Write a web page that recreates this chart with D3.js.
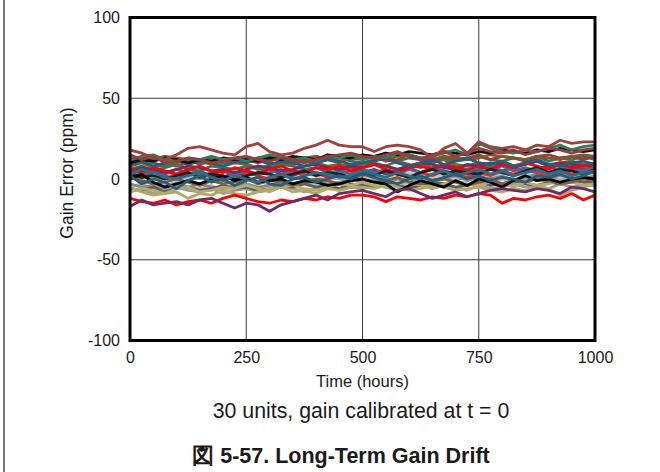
<!DOCTYPE html>
<html><head><meta charset="utf-8">
<script src="https://cdn.jsdelivr.net/npm/d3@7"></script>
<style>
html,body{margin:0;padding:0;background:#fff;}
svg{display:block;}
text{font-family:"Liberation Sans",Arial,sans-serif;fill:#1a1a1a;}
</style></head>
<body>
<svg id="chart" width="660" height="472"></svg>
<script>
// ---- data ----
const hours = [0,25,50,75,100,125,150,175,200,225,250,275,300,325,350,375,400,425,450,475,500,525,550,575,600,625,650,675,700,725,750,775,800,825,850,875,900,925,950,975,1000];
const xTicks = [0,250,500,750,1000];
const yTicks = [-100,-50,0,50,100];

const u01 = [18,16,13,12,15,19,20,18,16,15, 20,22,17,15,16,19,21,24,21,20, 20,17,20,21,20,18,13,19,22,16, 23,20,19,20,18,21,20,24,22,23, 23];
const u02 = [15,12,14,10,11,13,12,10,11,13, 14,12,11,13,12,10,12,14,15,16, 14,13,15,17,14,12,15,17,14,16, 19,17,16,18,15,17,19,18,16,18, 19];
const u03 = [13,11,12,14,11,9,12,13,11,10, 12,10,12,13,11,12,14,12,10,13, 12,14,11,12,15,13,11,14,12,13, 15,12,14,13,11,14,15,13,14,12, 14];
const u04 = [10,12,11,13,12,10,12,11,13,12, 12,11,13,12,14,13,12,15,14,13, 15,14,16,15,17,16,15,17,16,15, 17,16,18,17,16,18,17,19,18,17, 18];
const u05 = [12,14,15,12,11,13,12,14,12,13, 11,13,15,14,12,13,11,14,13,15, 12,14,13,16,15,13,14,16,18,15, 22,19,17,16,18,17,19,21,18,20, 21];
const u06 = [9,11,10,8,10,12,9,11,10,12, 11,13,10,9,12,11,10,12,13,11, 10,12,14,11,13,12,10,13,11,12, 14,12,11,13,12,14,11,13,12,14, 12];
const u07 = [11,13,12,14,13,12,11,13,12,11, 12,13,14,12,11,13,14,12,11,13, 14,13,12,14,15,13,12,14,13,12, 13,15,14,13,12,14,13,12,14,15, 14];
const u08 = [8,10,7,9,8,10,11,9,8,10, 9,7,8,10,9,11,10,8,9,7, 9,10,8,11,9,7,10,12,9,8, 10,9,11,8,10,12,9,10,11,9, 10];
const u09 = [9,11,8,10,12,9,11,10,8,11, 10,12,9,11,10,8,10,12,11,9, 10,11,13,10,8,10,12,9,11,13, 10,9,11,8,10,12,9,8,10,11, 9];
const u10 = [2,-3,0,-2,-6,-1,2,-2,0,-4, -1,1,-3,-4,0,1,-2,0,2,0, 3,1,-1,-3,0,2,-1,1,3,0, 2,-1,1,0,-2,2,1,3,0,2, 5];
const u11 = [5,7,6,4,6,8,7,5,6,4, 6,8,7,5,6,8,9,7,6,8, 7,9,8,6,8,10,9,7,6,9, 8,10,9,7,9,11,8,10,9,8, 9];
const u12 = [3,1,4,2,0,3,5,2,1,4, 2,4,6,3,2,5,4,2,5,7, 4,6,3,5,7,4,6,8,5,3, 6,8,5,7,4,6,8,5,7,6, 7];
const u13 = [6,4,7,5,3,6,8,5,4,7, 5,3,6,8,5,4,7,6,8,5, 7,9,6,4,7,8,6,9,7,5, 8,6,9,7,10,8,6,9,7,8, 8];
const u14 = [3,5,2,0,3,4,1,3,5,2, 4,2,0,3,5,2,4,1,3,5, 2,4,6,3,1,4,2,5,3,1, 4,2,5,3,6,4,2,5,3,4, 4];
const u15 = [-12,-14,-15,-13,-16,-14,-13,-15,-12,-10, -12,-14,-15,-13,-14,-12,-13,-11,-12,-10, -10,-11,-14,-11,-12,-13,-11,-12,-10,-11, -9,-10,-15,-12,-13,-11,-10,-12,-9,-13, -10];
const u16 = [-17,-13,-16,-15,-14,-16,-13,-12,-15,-18, -15,-16,-20,-16,-14,-12,-10,-13,-9,-8, -7,-9,-11,-7,-6,-9,-12,-10,-8,-11, -9,-7,-6,-7,-8,-6,-7,-9,-5,-6, -8];
const u17 = [-5,-8,-10,-9,-8,-12,-9,-10,-7,-9, -10,-8,-6,-5,-8,-7,-9,-6,-7,-5, -5,-6,-4,-5,-7,-6,-4,-5,-7,-6, -5,-7,-8,-6,-7,-5,-6,-10,-7,-5, -3];
const u18 = [-8,-6,-7,-9,-6,-5,-8,-7,-5,-6, -4,-6,-8,-5,-4,-6,-7,-5,-3,-4, -2,-4,-5,-3,-2,-4,-6,-3,-1,-3, -4,-2,-3,-5,-2,-4,-3,-1,-2,-4, -3];
const u19 = [0,3,-2,-5,-3,-1,-3,0,2,-1, 1,-2,-1,0,-3,-1,-2,-4,-3,-1, 0,-2,-3,-8,-4,-1,-3,-5,-1,-4, 0,-2,-5,-1,2,-1,0,-2,0,1, 0];
const u20 = [3,1,2,0,2,4,1,3,2,0, 2,4,3,1,3,5,2,4,3,1, 4,2,5,3,1,4,6,3,5,4, 3,6,4,2,5,7,4,6,5,3, 6];
const u21 = [3,6,4,1,0,2,4,1,-1,2, 0,-2,1,3,0,2,4,3,1,2, 5,3,1,4,2,0,3,5,2,4, 6,3,5,2,4,6,3,5,2,4, 5];
const u22 = [-3,-5,-4,-6,-4,-5,-3,-5,-6,-4, -3,-5,-4,-2,-4,-3,-1,-3,-2,0, -2,-1,-3,0,-2,1,-1,0,2,-1, 1,0,2,-1,1,3,0,2,1,0, 2];
const u23 = [-5,-3,-6,-4,-2,-5,-6,-4,-7,-5, -4,-6,-3,-5,-4,-2,-4,-6,-3,-5, -3,-1,-4,-2,-5,-3,-1,-3,-2,-4, -1,-3,0,-2,-1,1,-2,0,-1,1, 0];
const u24 = [1,-1,0,2,-1,1,3,0,-1,2, 1,0,2,-1,1,3,2,0,1,3, 0,2,1,3,4,2,1,3,0,2, 3,1,4,2,3,5,2,4,3,2, 3];
const u25 = [-6,-7,-5,-8,-6,-5,-7,-6,-4,-6, -5,-7,-6,-4,-5,-3,-5,-4,-6,-3, -4,-5,-3,-4,-6,-4,-2,-3,-5,-4, -2,-4,-3,-1,-3,-4,-2,-3,-1,-2, -2];
const u26 = [1,-1,-3,-2,0,-2,-4,-1,-3,-2, 0,-3,-1,-2,-4,-2,0,-1,-3,-1, 0,-2,-1,1,-2,-3,-1,0,-2,-4, -2,0,-3,-1,-2,0,-1,-3,-2,0, -1];
const u27 = [-8,-6,-9,-7,-5,-7,-8,-6,-9,-7, -6,-8,-7,-5,-6,-8,-6,-4,-7,-5, -6,-4,-5,-7,-5,-3,-6,-4,-5,-7, -4,-6,-5,-3,-5,-4,-6,-3,-5,-4, -4];
const u28 = [6,8,5,7,9,6,5,8,7,6, 8,6,7,9,8,6,7,5,8,9, 7,9,8,6,8,10,7,9,8,6, 9,7,10,8,9,11,8,10,9,8, 9];
const u29 = [4,2,5,3,6,4,2,4,5,3, 5,3,4,6,3,5,7,4,5,3, 6,4,5,3,6,4,7,5,3,6, 4,6,8,5,7,5,4,7,6,5, 7];
const u30 = [5,3,6,4,2,5,3,4,6,3, 4,2,5,3,5,6,4,2,4,5, 3,5,4,6,3,2,5,4,6,3, 5,7,4,6,5,3,6,4,5,7, 5];

// draw order (back to front) and line colours
const units = [u30,u24,u23,u22,u27,u25,u18,u17,u26,u14,u12,u29,u28,u08,u06,u03,u07,u11,u13,u20,u19,u21,u10,u09,u04,u05,u02,u15,u16,u01];
const unitColors = ["#d0d0d0","#c4c4c4","#b8b8b8","#8a8a8a","#9a9a9a","#5e5e5e","#b3ad6e","#b0aa64","#8a5a30","#ff2020","#7a3a78","#3e6f96","#2f7c5a","#8b5a2b","#2e7a56","#9b3b3b","#86552a","#6c2d6e","#ff0000","#222222","#000000","#2f6c86","#255f7c","#1f5f7f","#111111","#2e7d5c","#9a3a3a","#ff0000","#6e2b6c","#a3403c"];

// ---- layout ----
const svg = d3.select("#chart");
const L = 130, R = 595, T = 17.5, B = 340.5;
const x = d3.scaleLinear().domain([0,1000]).range([L,R]);
const y = d3.scaleLinear().domain([-100,100]).range([B,T]);
const fmt = d => String(d);

// left page rule
svg.append("line").attr("x1",4).attr("x2",4).attr("y1",0).attr("y2",472)
  .attr("stroke","#7a7a7a").attr("stroke-width",2);

// grid
const grid = svg.append("g");
grid.selectAll(".gx").data(xTicks.slice(1,-1)).join("line")
  .attr("x1",d=>x(d)).attr("x2",d=>x(d)).attr("y1",T).attr("y2",B)
  .attr("stroke","#3a3a3a").attr("stroke-width",1);
grid.selectAll(".gy").data(yTicks.slice(1,-1)).join("line")
  .attr("x1",L).attr("x2",R).attr("y1",d=>y(d)).attr("y2",d=>y(d))
  .attr("stroke","#3a3a3a").attr("stroke-width",1);

// lines
const line = d3.line().x((d,i)=>x(hours[i])).y(d=>y(d)).curve(d3.curveLinear);
svg.append("clipPath").attr("id","pc").append("rect")
  .attr("x",L).attr("y",T).attr("width",R-L).attr("height",B-T);
svg.append("g").attr("clip-path","url(#pc)")
  .selectAll("path").data(units).join("path")
  .attr("d",line).attr("fill","none")
  .attr("stroke",(d,i)=>unitColors[i]).attr("stroke-width",2.8)
  .attr("stroke-linejoin","round");

// frame
svg.append("rect").attr("x",L).attr("y",T).attr("width",R-L).attr("height",B-T)
  .attr("fill","none").attr("stroke","#000").attr("stroke-width",3);

// axes labels via d3 axes
const xAxis = d3.axisBottom(x).tickValues(xTicks).tickSize(0).tickPadding(11).tickFormat(fmt);
const gx = svg.append("g").attr("transform",`translate(0,${B})`).call(xAxis);
gx.select(".domain").remove();
gx.selectAll("text").style("font-size","16px").attr("fill","#1a1a1a")
  .style("font-family","'Liberation Sans',Arial,sans-serif");

const yAxis = d3.axisLeft(y).tickValues(yTicks).tickSize(0).tickPadding(10).tickFormat(fmt);
const gy = svg.append("g").attr("transform",`translate(${L},0)`).call(yAxis);
gy.select(".domain").remove();
gy.selectAll("text").style("font-size","16px").attr("fill","#1a1a1a")
  .style("font-family","'Liberation Sans',Arial,sans-serif");

svg.append("text").attr("x",(L+R)/2).attr("y",387).attr("text-anchor","middle")
  .style("font-size","16.5px").text("Time (hours)");
svg.append("text").attr("transform","translate(73,173) rotate(-90)").attr("text-anchor","middle")
  .style("font-size","17.5px").text("Gain Error (ppm)");
svg.append("text").attr("x",361).attr("y",418).attr("text-anchor","middle")
  .style("font-size","21.3px").text("30 units, gain calibrated at t = 0");
svg.append("text").attr("x",341).attr("y",463).attr("text-anchor","middle")
  .style("font-size","21.5px").style("font-weight","bold").text("図 5-57. Long-Term Gain Drift");
</script>
</body></html>
